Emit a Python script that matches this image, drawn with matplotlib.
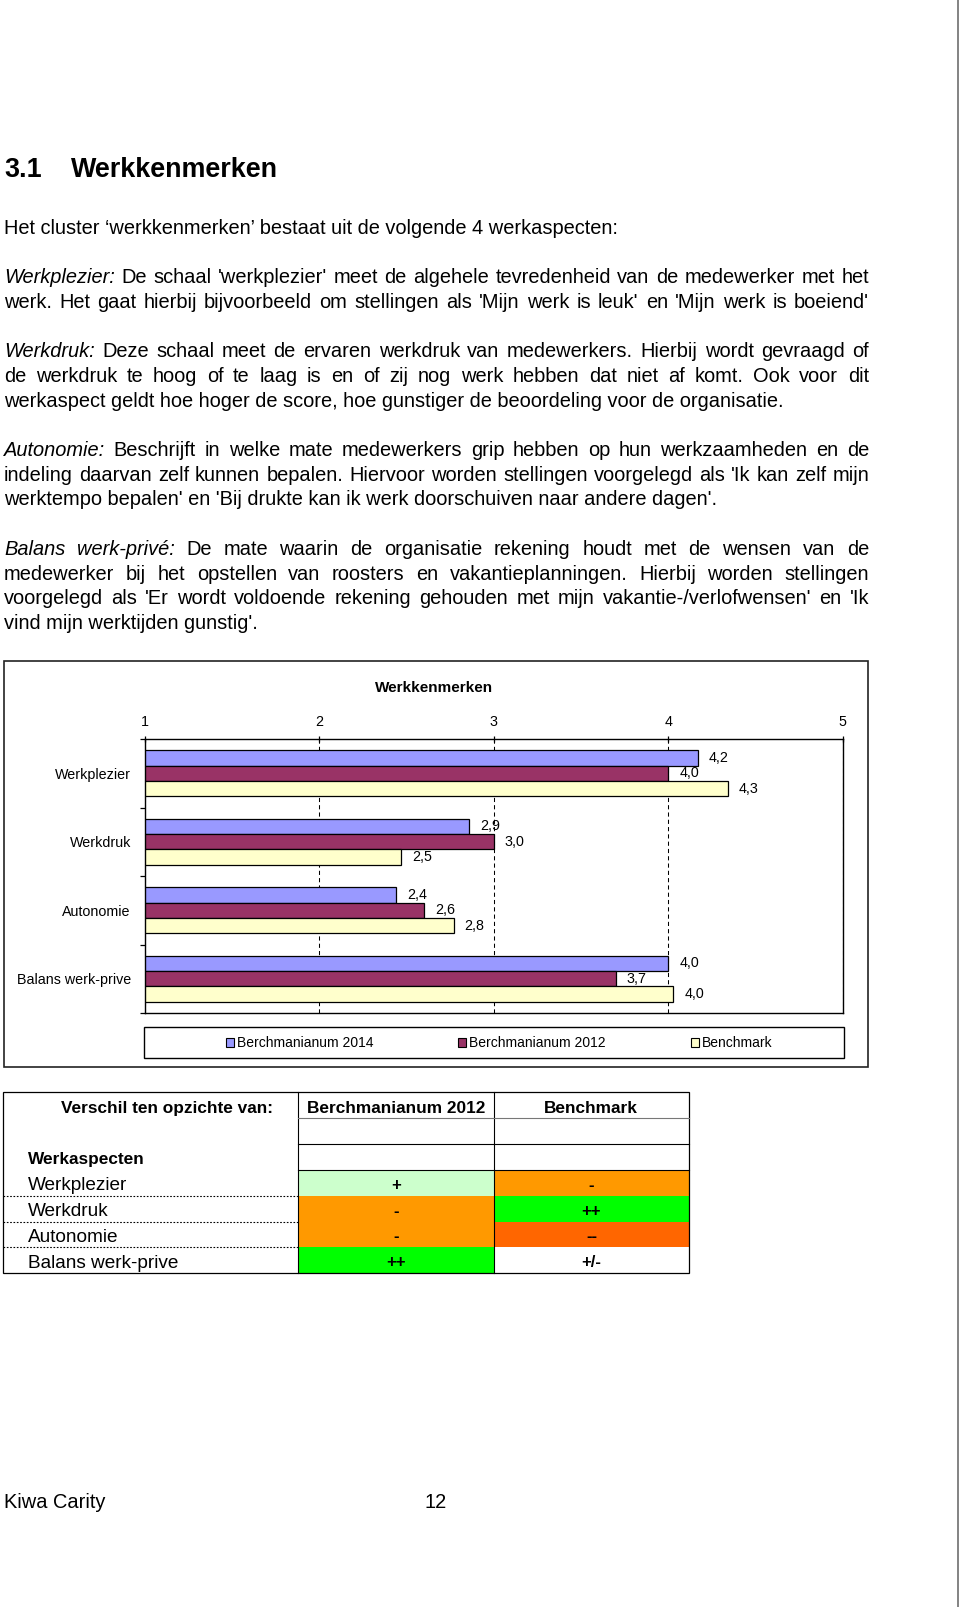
import numpy as np
import matplotlib
matplotlib.use('Agg')
import matplotlib.pyplot as plt
from matplotlib.patches import Rectangle, Patch

plt.rcParams['font.family'] = ['Liberation Sans', 'DejaVu Sans']

# chart data
categories = ['Werkplezier', 'Werkdruk', 'Autonomie', 'Balans werk-prive']
series_names = ['Berchmanianum 2014', 'Berchmanianum 2012', 'Benchmark']
berch_2014 = [4.17, 2.86, 2.44, 4.0]
berch_2012 = [4.0, 3.0, 2.6, 3.7]
benchmark = [4.34, 2.47, 2.77, 4.03]
series_colors = ['#9999FF', '#993366', '#FFFFCC']
x_ticks = [1, 2, 3, 4, 5]

# table data
table_rows = ['Werkplezier', 'Werkdruk', 'Autonomie', 'Balans werk-prive']
vs_2012 = ['+', '-', '-', '++']
vs_bench = ['-', '++', '--', '+/-']
cell_colors = {'++': '#00FF00', '+': '#CCFFCC', '-': '#FF9900', '--': '#FF6600', '+/-': '#FFFFFF'}

# body text, (line index, parts, justify)
body_lines = [
    (0, [("Werkplezier:", True), ("De schaal 'werkplezier' meet de algehele tevredenheid van de medewerker met het", False)], True),
    (1, [("werk. Het gaat hierbij bijvoorbeeld om stellingen als 'Mijn werk is leuk' en 'Mijn werk is boeiend'", False)], True),
    (3, [("Werkdruk:", True), ("Deze schaal meet de ervaren werkdruk van medewerkers. Hierbij wordt gevraagd of", False)], True),
    (4, [("de werkdruk te hoog of te laag is en of zij nog werk hebben dat niet af komt. Ook voor dit", False)], True),
    (5, [("werkaspect geldt hoe hoger de score, hoe gunstiger de beoordeling voor de organisatie.", False)], False),
    (7, [("Autonomie:", True), ("Beschrijft in welke mate medewerkers grip hebben op hun werkzaamheden en de", False)], True),
    (8, [("indeling daarvan zelf kunnen bepalen. Hiervoor worden stellingen voorgelegd als 'Ik kan zelf mijn", False)], True),
    (9, [("werktempo bepalen' en 'Bij drukte kan ik werk doorschuiven naar andere dagen'.", False)], False),
    (11, [("Balans werk-privé:", True), ("De mate waarin de organisatie rekening houdt met de wensen van de", False)], True),
    (12, [("medewerker bij het opstellen van roosters en vakantieplanningen. Hierbij worden stellingen", False)], True),
    (13, [("voorgelegd als 'Er wordt voldoende rekening gehouden met mijn vakantie-/verlofwensen' en 'Ik", False)], True),
    (14, [("vind mijn werktijden gunstig'.", False)], False),
]

W, H = 960, 1607
BODY = 14.4
LEFT, RIGHT = 4, 869
VA = 'center_baseline'

fig = plt.figure(figsize=(W / 100, H / 100), dpi=100)
page = fig.add_axes([0, 0, 1, 1])
page.set_xlim(0, W)
page.set_ylim(H, 0)
page.axis('off')
renderer = fig.canvas.get_renderer()


def rect(x0, y0, x1, y1):
    return [x0 / W, 1 - y1 / H, (x1 - x0) / W, (y1 - y0) / H]


def draw_line(y, parts, justify):
    if not justify and len(parts) == 1:
        page.text(LEFT, y, parts[0][0], fontsize=BODY, va=VA, ha='left')
        return
    words = []
    for txt, italic in parts:
        for w in txt.split():
            words.append((w, italic))
    objs = [page.text(0, y, w, fontsize=BODY, style='italic' if it else 'normal',
                      va=VA, ha='left') for w, it in words]
    widths = [t.get_window_extent(renderer).width for t in objs]
    if justify and len(objs) > 1:
        gap = (RIGHT - LEFT - sum(widths)) / (len(objs) - 1)
    else:
        gap = 0.278 * BODY * 100 / 72
    x = LEFT
    for t, w in zip(objs, widths):
        t.set_x(x)
        x += w + gap


# heading and intro
page.text(4, 167, '3.1', fontsize=19.4, weight='bold', va=VA)
page.text(71, 167, 'Werkkenmerken', fontsize=19.4, weight='bold', va=VA)
page.text(LEFT, 226.5, 'Het cluster \u2018werkkenmerken\u2019 bestaat uit de volgende 4 werkaspecten:',
          fontsize=BODY, va=VA)
for idx, parts, just in body_lines:
    draw_line(275.5 + 24.72 * idx, parts, just)

# chart frame, title, legend box
page.add_patch(Rectangle((4, 661), 864, 406, fill=False, lw=1.2, ec='#222222'))
page.text(434, 686, 'Werkkenmerken', fontsize=11, weight='bold', ha='center', va=VA)
page.add_patch(Rectangle((144, 1027), 700, 31, fill=False, lw=1.0, ec='black'))
handles = [Patch(facecolor=c, edgecolor='black', lw=0.8) for c in series_colors]
page.legend(handles, series_names, loc='center', bbox_to_anchor=(499, 1043),
            bbox_transform=page.transData, ncol=3, frameon=False, fontsize=10,
            handlelength=0.6, handleheight=0.6, handletextpad=0.2, columnspacing=6.1)

# bar chart
ax = fig.add_axes(rect(144.7, 739, 842.7, 1013))
y = np.arange(len(categories))
bh = 0.226
for i, (vals, col) in enumerate(zip([berch_2014, berch_2012, benchmark], series_colors)):
    pos = y + (i - 1) * bh
    ax.barh(pos, vals, height=bh, color=col, edgecolor='black', lw=0.9, zorder=2)
    for p, v in zip(pos, vals):
        ax.annotate(f'{v:.1f}'.replace('.', ','), xy=(v, p), xytext=(7.9, 0),
                    textcoords='offset points', va='center', ha='left', fontsize=10.3, zorder=3)

ax.set_xlim(1, 5)
ax.set_ylim(3.5, -0.5)
ax.xaxis.tick_top()
ax.set_xticks(x_ticks)
ax.set_xticklabels([str(t) for t in x_ticks])
ax.tick_params(axis='x', direction='inout', length=5, width=0.9, pad=4.5, labelsize=10.3)
ax.set_yticks(y)
ax.set_yticklabels(categories)
ax.tick_params(axis='y', which='major', length=0, pad=9.9, labelsize=10.3)
ax.set_yticks(np.arange(-0.5, len(categories), 1), minor=True)
ax.tick_params(axis='y', which='minor', length=3.6, width=0.9, direction='out')
ax.grid(True, axis='x', color='black', linestyle=(0, (4, 3)), linewidth=0.75)
ax.set_axisbelow(True)
for s in ax.spines.values():
    s.set_linewidth(1.0)
    s.set_color('black')

# table
xs = [3, 298, 494, 689]
ys = [1092, 1118, 1144, 1170, 1196, 1222, 1247, 1273]
for r, (a, b) in enumerate(zip(vs_2012, vs_bench)):
    y0, y1 = ys[3 + r], ys[4 + r]
    for c, sym in enumerate([a, b]):
        page.add_patch(Rectangle((xs[1 + c], y0), xs[2 + c] - xs[1 + c], y1 - y0,
                                 facecolor=cell_colors[sym], edgecolor='none'))
        page.text((xs[1 + c] + xs[2 + c]) / 2, (y0 + y1) / 2 + 1, sym, fontsize=12,
                  weight='bold', ha='center', va=VA)
    page.text(28, (y0 + y1) / 2 + 1, table_rows[r], fontsize=13.7, va=VA)
    if r > 0:
        page.plot([xs[0], xs[1]], [y0, y0], color='black', lw=0.8, ls=(0, (1.5, 1.5)))

page.add_patch(Rectangle((xs[0], ys[0]), xs[3] - xs[0], ys[-1] - ys[0], fill=False, lw=0.9, ec='black'))
for xv in xs[1:3]:
    page.plot([xv, xv], [ys[0], ys[-1]], color='black', lw=0.8)
page.plot([xs[1], xs[3]], [ys[1], ys[1]], color='#777777', lw=0.8)
for yv in ys[2:4]:
    page.plot([xs[1], xs[3]], [yv, yv], color='black', lw=0.8)

page.text(167, 1107, 'Verschil ten opzichte van:', fontsize=12.4, weight='bold', ha='center', va=VA)
page.text(396, 1107, 'Berchmanianum 2012', fontsize=12.4, weight='bold', ha='center', va=VA)
page.text(591, 1107, 'Benchmark', fontsize=12.4, weight='bold', ha='center', va=VA)
page.text(28, 1158, 'Werkaspecten', fontsize=12.4, weight='bold', va=VA)

# footer and page edge
page.text(4, 1501, 'Kiwa Carity', fontsize=BODY, va=VA)
page.text(436, 1501, '12', fontsize=BODY, ha='center', va=VA)
page.plot([957.7, 957.7], [0, H], color='#6e6e6e', lw=1.2)

fig.savefig('out.png', dpi=100)
